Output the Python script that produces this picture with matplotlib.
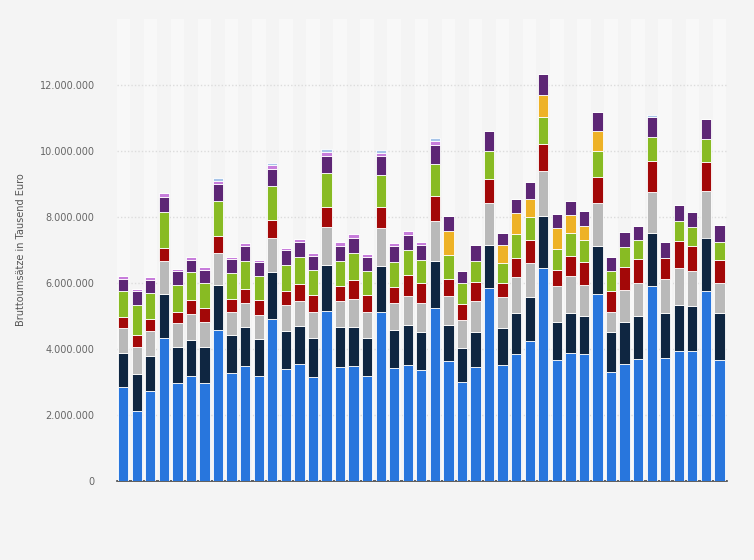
import matplotlib
matplotlib.use("Agg")
import matplotlib.pyplot as plt
import numpy as np
from matplotlib.ticker import FuncFormatter

# values in million EUR (thousand-euro axis shows x1e6)
blue   = [2.84,2.12,2.73,4.33,2.97,3.17,2.97,4.57,3.26,3.49,3.17,4.91,3.39,3.54,3.15,5.14,3.45,3.49,3.17,5.11,3.43,3.53,3.37,
          5.23,3.64,3.00,3.46,5.85,3.53,3.85,4.24,6.45,3.66,3.88,3.84,5.66,3.30,3.55,3.70,5.91,3.72,3.94,3.94,5.75,3.66]
navy   = [1.05,1.11,1.07,1.35,1.10,1.09,1.08,1.36,1.16,1.17,1.13,1.42,1.15,1.15,1.18,1.41,1.22,1.18,1.16,1.41,1.14,1.19,1.15,
          1.44,1.08,1.02,1.05,1.29,1.11,1.23,1.33,1.57,1.16,1.22,1.15,1.45,1.23,1.27,1.29,1.60,1.38,1.38,1.35,1.63,1.42]
gray   = [.74,.82,.74,.98,.71,.79,.76,.97,.69,.74,.72,1.03,.80,.78,.79,1.16,.78,.85,.78,1.16,.83,.89,.88,
          1.21,.89,.85,.94,1.28,.93,1.09,1.03,1.39,1.08,1.12,.96,1.31,.58,.97,1.01,1.24,1.02,1.13,1.06,1.40,.91]
red    = [.33,.39,.38,.41,.33,.44,.42,.53,.40,.42,.47,.54,.43,.50,.51,.60,.46,.57,.52,.63,.47,.62,.59,
          .76,.51,.49,.58,.73,.42,.58,.71,.80,.51,.61,.68,.79,.64,.70,.72,.94,.63,.82,.77,.88,.71]
green  = [.79,.89,.77,1.07,.82,.84,.76,1.05,.78,.85,.72,1.03,.78,.83,.78,1.01,.76,.81,.74,.96,.77,.77,.71,
          .96,.72,.63,.63,.85,.62,.74,.69,.82,.63,.70,.67,.80,.61,.61,.59,.73,0,.60,.58,.71,.53]
orange = [0]*24 + [.73,0,0,0,.54,.62,.56,.68,.62,.53,.44,.60,0,0,0,0,0,0,0,0,0]
purple = [.37,.44,.39,.47,.42,.38,.41,.51,.43,.44,.42,.53,.44,.44,.40,.54,.45,.46,.41,.57,.48,.47,.44,
          .57,.46,.37,.48,.61,.36,.43,.49,.63,.42,.44,.45,.56,.42,.46,.43,.60,.48,.49,.44,.59,.52]
pink   = [.09,.06,.09,.11,.07,.09,.08,.11,.08,.09,.08,.11,.08,.10,.09,.12,.11,.12,.09,.11,.09,.10,.09,
          .12] + [0]*21
lblue  = [0]*7 + [.07] + [0]*3 + [.06] + [0]*3 + [.07] + [0]*3 + [.08] + [0]*3 + [.09] + [0]*15 + [.07] + [0]*5

series = [blue, navy, gray, red, green, orange, purple, pink, lblue]
colors = ["#2876dd", "#0f2641", "#b9b9b9", "#a30808", "#88bb23", "#eeb226", "#5d2675", "#c77ddb", "#a7c4e8"]

fig = plt.figure(figsize=(7.54, 5.6), dpi=100)
fig.patch.set_facecolor("#f4f4f4")
ax = fig.add_axes([0.155, 0.141, 0.809, 0.825])
ax.set_facecolor("#f4f4f4")
n = len(blue)
x = np.arange(n)
for i in range(0, n, 2):
    ax.axvspan(i - 0.5, i + 0.5, color="#f8f8f8", zorder=0, lw=0)
bottom = np.zeros(n)
for s, c in zip(series, colors):
    v = np.array(s) * 1e6
    ax.bar(x, v, 0.76, bottom=bottom, color=c, edgecolor="white", linewidth=0.6, zorder=3)
    bottom += v
ax.set_xlim(-0.47, 44.55)
ax.set_ylim(0, 14e6)
ax.set_yticks(np.arange(0, 12.1e6, 2e6))
ax.yaxis.set_major_formatter(FuncFormatter(lambda v, p: f"{int(v):,}".replace(",", ".")))
ax.grid(axis="y", color="#dcdcdc", linestyle=(0, (1, 1.5)), linewidth=1, zorder=1)
ax.set_xticks([])
for sp in ["top", "right", "left"]:
    ax.spines[sp].set_visible(False)
ax.spines["bottom"].set_color("#444444")
ax.spines["bottom"].set_linewidth(1.2)
ax.tick_params(axis="y", length=0, labelsize=7, labelcolor="#666666", pad=16)
ax.set_ylabel("Bruttoumsätze in Tausend Euro", fontsize=7, color="#555555", labelpad=10)
fig.savefig("out.png", dpi=100, facecolor=fig.get_facecolor())
